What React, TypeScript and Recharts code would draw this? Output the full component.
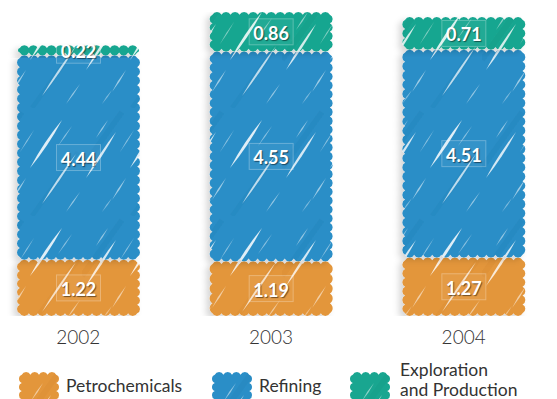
import React from 'react'
import { BarChart, Bar, XAxis, YAxis, LabelList } from 'recharts'

const CATEGORIES = ['2002', '2003', '2004']
const PETROCHEMICALS = [1.22, 1.19, 1.27]
const REFINING = [4.44, 4.55, 4.51]
const EXPLORATION = [0.22, 0.86, 0.71]

const SERIES = [
  { key: 'petro', name: ['Petrochemicals'], color: '#E3963B', dark: '#C97F2A', values: PETROCHEMICALS },
  { key: 'refining', name: ['Refining'], color: '#2A8EC7', dark: '#1E77AC', values: REFINING },
  { key: 'explo', name: ['Exploration', 'and Production'], color: '#19A690', dark: '#0F8C78', values: EXPLORATION },
]

const data = CATEGORIES.map((year, i) => {
  const row: Record<string, string | number> = { year }
  SERIES.forEach((s) => (row[s.key] = s.values[i]))
  return row
})

// decorative white streaks inside the hatch tile: x1, y1, x2, y2, width, opacity
const STREAKS = [
  [4, 70, 34, 24, 2.6, 0.8],
  [30, 92, 44, 70, 1.6, 0.55],
  [48, 60, 80, 12, 3, 0.85],
  [14, 30, 26, 12, 1.4, 0.5],
  [60, 96, 94, 46, 2.2, 0.7],
  [76, 38, 90, 18, 1.2, 0.45],
  [20, 104, 30, 90, 1.2, 0.4],
  [38, 44, 52, 22, 1.1, 0.45],
  [84, 104, 98, 84, 1.3, 0.5],
]

function lens(x1: number, y1: number, x2: number, y2: number, w: number) {
  const dx = x2 - x1
  const dy = y2 - y1
  const len = Math.hypot(dx, dy)
  const nx = (-dy / len) * w
  const ny = (dx / len) * w
  const mx = (x1 + x2) / 2
  const my = (y1 + y2) / 2
  return `M${x1},${y1} Q${mx + nx},${my + ny} ${x2},${y2} Q${mx - nx},${my - ny} ${x1},${y1} Z`
}

function scallopPath(x: number, y: number, w: number, h: number) {
  const s = Math.min(2.8, h / 3.5, w / 4)
  const ix = x + s
  const iy = y + s
  const iw = w - 2 * s
  const ih = h - 2 * s
  const nx = Math.max(1, Math.round(iw / 9))
  const ny = Math.max(1, Math.round(ih / 9))
  const cx = iw / nx
  const cy = ih / ny
  const rad = (c: number) => (c * c / 4 + s * s) / (2 * s)
  const rx = rad(cx)
  const ry = rad(cy)
  let d = `M${ix},${iy}`
  for (let k = 0; k < nx; k++) d += ` a${rx},${rx} 0 0 1 ${cx},0`
  for (let k = 0; k < ny; k++) d += ` a${ry},${ry} 0 0 1 0,${cy}`
  for (let k = 0; k < nx; k++) d += ` a${rx},${rx} 0 0 1 ${-cx},0`
  for (let k = 0; k < ny; k++) d += ` a${ry},${ry} 0 0 1 0,${-cy}`
  return d + ' Z'
}

function Hatch({ id, color, dark }: { id: string; color: string; dark: string }) {
  return (
    <pattern id={id} patternUnits="userSpaceOnUse" width="100" height="108">
      <rect width="100" height="108" fill={color} />
      <line x1="0" y1="60" x2="40" y2="4" stroke={dark} strokeWidth="6" opacity="0.18" />
      <line x1="50" y1="108" x2="96" y2="44" stroke={dark} strokeWidth="5" opacity="0.16" />
      {STREAKS.map(([x1, y1, x2, y2, sw, op], i) => (
        <path key={i} d={lens(x1, y1, x2, y2, sw)} fill="#fff" opacity={op} />
      ))}
    </pattern>
  )
}

function SketchBar(props: any) {
  const { x, y, width, height, patternId } = props
  if (!height || height <= 0) return null
  return <path d={scallopPath(x, y, width, height)} fill={`url(#${patternId})`} filter="url(#barShadow)" />
}

function SegLabel(props: any) {
  const { x, y, width, height, value } = props
  const cx = x + width / 2
  const cy = y + height / 2
  return (
    <g>
      <rect x={cx - 22} y={cy - 13} width={44} height={26} fill="rgba(255,255,255,0.05)" stroke="rgba(255,255,255,0.28)" strokeWidth={1} />
      <text
        x={cx}
        y={cy + 1}
        textAnchor="middle"
        dominantBaseline="central"
        fill="#fff"
        fontFamily="Lato, sans-serif"
        fontWeight={700}
        fontSize={18}
        style={{ textShadow: '1px 1px 1px rgba(0,0,0,0.5)' }}
      >
        {Number(value).toFixed(2)}
      </text>
    </g>
  )
}

function YearTick(props: any) {
  const { x, y, payload } = props
  return (
    <text x={x} y={y + 20} textAnchor="middle" fill="#333" fontFamily="Lato, sans-serif" fontWeight={300} fontSize={19}>
      {payload.value}
    </text>
  )
}

const SWATCH_LEFT = [17, 210, 348]
const TEXT_LEFT = [66, 259, 400]

export default function App() {
  return (
    <div style={{ position: 'fixed', left: 0, top: 0, width: 557, height: 399, overflow: 'hidden', background: '#fff' }}>
      <div style={{ position: 'absolute', left: -18, top: 0 }}>
        <BarChart width={578} height={399} data={data} margin={{ top: 12, right: 0, left: 0, bottom: 53 }} barSize={123}>
          <defs>
            <filter id="barShadow" x="-20%" y="-20%" width="140%" height="140%">
              <feDropShadow dx="-4" dy="3" stdDeviation="3" floodColor="#000" floodOpacity="0.16" />
            </filter>
            {SERIES.map((s) => (
              <Hatch key={s.key} id={`hatch-${s.key}`} color={s.color} dark={s.dark} />
            ))}
          </defs>
          <XAxis dataKey="year" axisLine={false} tickLine={false} height={30} tick={<YearTick />} interval={0} />
          <YAxis hide domain={[0, 6.6]} allowDataOverflow />
          {SERIES.map((s) => (
            <Bar
              key={s.key}
              dataKey={s.key}
              stackId="a"
              isAnimationActive={false}
              shape={(p: any) => <SketchBar {...p} patternId={`hatch-${s.key}`} />}
            >
              <LabelList dataKey={s.key} content={(p: any) => <SegLabel {...p} />} />
            </Bar>
          ))}
        </BarChart>
      </div>
      {SERIES.map((s, i) => (
        <React.Fragment key={s.key}>
          <svg style={{ position: 'absolute', left: SWATCH_LEFT[i], top: 371 }} width={44} height={30}>
            <defs>
              <Hatch id={`leg-${s.key}`} color={s.color} dark={s.dark} />
            </defs>
            <path d={scallopPath(2, 1, 40, 30)} fill={`url(#leg-${s.key})`} />
          </svg>
          <div
            style={{
              position: 'absolute',
              left: TEXT_LEFT[i],
              top: s.name.length > 1 ? 360 : 376,
              fontFamily: 'Lato, sans-serif',
              fontSize: 17.5,
              lineHeight: '20px',
              color: '#333',
              whiteSpace: 'nowrap',
            }}
          >
            {s.name.map((line) => (
              <div key={line}>{line}</div>
            ))}
          </div>
        </React.Fragment>
      ))}
    </div>
  )
}
